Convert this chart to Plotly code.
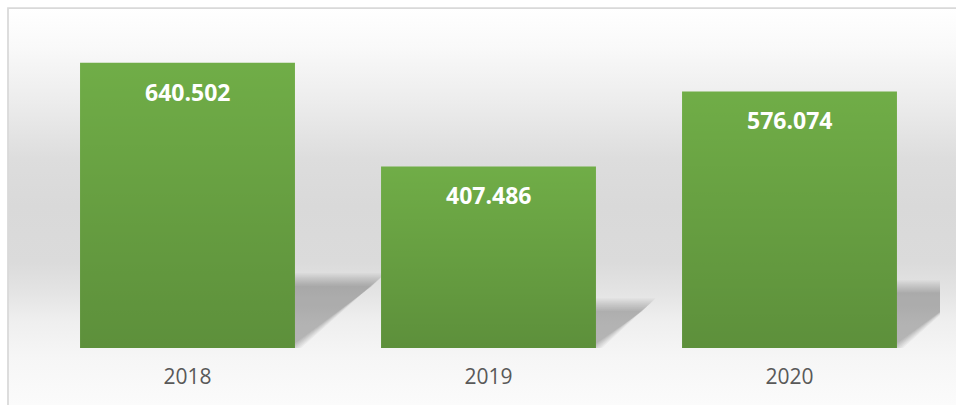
import base64
import plotly.graph_objects as go

# ---- data -------------------------------------------------------------
years = ["2018", "2019", "2020"]
values = [640502, 407486, 576074]

# ---- styling ----------------------------------------------------------
W, H = 956, 405
MARGIN = dict(l=37, r=16, t=8, b=57)
Y_MAX = 763300
BAR_WIDTH = 0.714
BAR_GREEN = "#70AD47"
LABEL_FONT = dict(family="Open Sans", size=23, color="white", weight="bold")
TICK_FONT = dict(family="Open Sans", size=21, color="#595959")

plot_w = W - MARGIN["l"] - MARGIN["r"]
plot_h = H - MARGIN["t"] - MARGIN["b"]
px_per_x = plot_w / len(years)
px_per_y = plot_h / Y_MAX


def paper_x(px):
    """Page pixel column -> paper coordinate (relative to the plot area)."""
    return (px - MARGIN["l"]) / plot_w


def paper_y(py):
    """Page pixel row (from top) -> paper coordinate."""
    return (H - MARGIN["b"] - py) / plot_h


def svg_uri(svg):
    return "data:image/svg+xml;base64," + base64.b64encode(svg.encode()).decode()


def vertical_gradient(stops):
    stop_tags = "".join(
        f'<stop offset="{o}" stop-color="{c}" stop-opacity="{a}"/>' for o, c, a in stops
    )
    return svg_uri(
        '<svg xmlns="http://www.w3.org/2000/svg" width="100" height="100" '
        'viewBox="0 0 100 100" preserveAspectRatio="none">'
        f'<defs><linearGradient id="g" x1="0" y1="0" x2="0" y2="1">{stop_tags}</linearGradient></defs>'
        '<rect x="0" y="0" width="100" height="100" fill="url(#g)"/></svg>'
    )


background = vertical_gradient([
    (0.00, "#ffffff", 1), (0.10, "#f9f9f9", 1), (0.24, "#ececec", 1),
    (0.38, "#dddddd", 1), (0.50, "#d9d9d9", 1), (0.64, "#dbdbdb", 1),
    (0.71, "#e3e3e3", 1), (0.79, "#efefef", 1), (0.88, "#f6f6f6", 1),
    (1.00, "#fbfbfb", 1),
])
bar_shade = vertical_gradient([(0.0, "#000000", 0.0), (1.0, "#000000", 0.17)])

x_pos = list(range(len(years)))
fig = go.Figure(
    go.Bar(
        x=x_pos,
        y=values,
        width=BAR_WIDTH,
        marker=dict(color=BAR_GREEN, line=dict(width=0)),
        hoverinfo="skip",
    )
)

images = [
    dict(source=background, xref="paper", yref="paper",
         x=paper_x(8), y=paper_y(8),
         sizex=paper_x(W) - paper_x(8), sizey=paper_y(8) - paper_y(H),
         xanchor="left", yanchor="top", sizing="stretch", layer="below")
]
shapes = [
    dict(type="rect", xref="paper", yref="paper",
         x0=paper_x(8), x1=paper_x(W + 10), y0=paper_y(H + 10), y1=paper_y(8),
         line=dict(color="#d9d9d9", width=1.75), layer="below")
]
annotations = []

for x, v in zip(x_pos, values):
    x_left, x_right = x - BAR_WIDTH / 2, x + BAR_WIDTH / 2

    # darker toward the bottom of each bar
    images.append(dict(source=bar_shade, xref="x", yref="y",
                       x=x_left, y=v, sizex=BAR_WIDTH, sizey=v,
                       xanchor="left", yanchor="top", sizing="stretch", layer="above"))

    # soft perspective shadow cast to the right of the bar
    h_px = v * px_per_y
    rise, run = 0.24 * h_px, 0.295 * h_px
    for e in (-6, -4, -2, 0, 2, 4, 6):
        top = max(rise + e, 0) / px_per_y
        pts = [
            (x_left, 0),
            (x_right + e / px_per_x, 0),
            (x_right + (run + e) / px_per_x, top),
            (x_left + run / px_per_x, top),
        ]
        path = "M " + " L ".join(f"{px:.5f},{py:.2f}" for px, py in pts) + " Z"
        shapes.append(dict(type="path", xref="x", yref="y", path=path,
                           fillcolor="rgba(0,0,0,0.04)", line=dict(width=0),
                           layer="below"))

    annotations.append(dict(x=x, y=v, xref="x", yref="y",
                            text=f"{v:,}".replace(",", "."),
                            showarrow=False, yanchor="middle", yshift=-29,
                            font=LABEL_FONT))

fig.update_layout(
    width=W, height=H,
    margin=MARGIN,
    paper_bgcolor="white",
    plot_bgcolor="rgba(0,0,0,0)",
    showlegend=False,
    images=images,
    shapes=shapes,
    annotations=annotations,
    xaxis=dict(range=[-0.5, len(years) - 0.5], tickvals=x_pos, ticktext=years,
               tickfont=TICK_FONT, showgrid=False, zeroline=False, showline=False,
               ticks="", ticklabelstandoff=14, fixedrange=True),
    yaxis=dict(range=[0, Y_MAX], visible=False, fixedrange=True),
)

fig.write_html("out.html", config={"displayModeBar": False})
